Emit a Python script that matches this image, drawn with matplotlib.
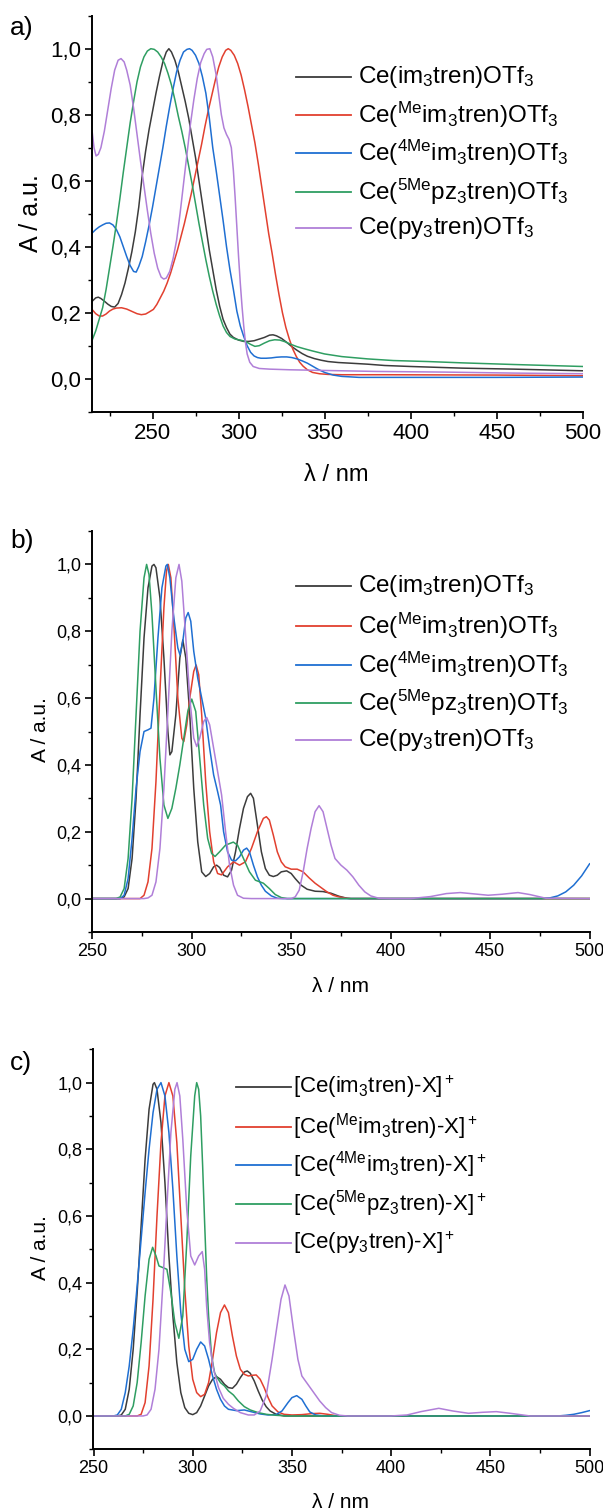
import matplotlib
matplotlib.use("Agg")
import matplotlib.pyplot as plt
from matplotlib.lines import Line2D
from matplotlib.ticker import MultipleLocator

plt.rcParams['font.family'] = ['Liberation Sans', 'DejaVu Sans']
plt.rcParams['mathtext.fontset'] = 'custom'
plt.rcParams['mathtext.rm'] = 'Liberation Sans'
plt.rcParams['mathtext.it'] = 'Liberation Sans:italic'
plt.rcParams['mathtext.default'] = 'regular'

W, H = 603, 1512

colors = ['#3c3c3c', '#e2402f', '#1f6fd2', '#2f9e62', '#b07fd8']

labels_ab = [r'Ce(im$_3$tren)OTf$_3$',
             r'Ce($^{Me}$im$_3$tren)OTf$_3$',
             r'Ce($^{4Me}$im$_3$tren)OTf$_3$',
             r'Ce($^{5Me}$pz$_3$tren)OTf$_3$',
             r'Ce(py$_3$tren)OTf$_3$']
labels_c = [r'[Ce(im$_3$tren)-X$]^+$',
            r'[Ce($^{Me}$im$_3$tren)-X$]^+$',
            r'[Ce($^{4Me}$im$_3$tren)-X$]^+$',
            r'[Ce($^{5Me}$pz$_3$tren)-X$]^+$',
            r'[Ce(py$_3$tren)-X$]^+$']

ytick_vals = [0.0, 0.2, 0.4, 0.6, 0.8, 1.0]
ytick_text = ['0,0', '0,2', '0,4', '0,6', '0,8', '1,0']
xtick_vals = [250, 300, 350, 400, 450, 500]

# ---- a) measured spectra ----
a_im_x = [215, 217, 218.5, 220, 222, 224, 226, 228, 230, 232, 234, 236, 238, 240, 242, 244, 246,
          248, 250, 252, 254, 256, 258, 259.5, 261, 263, 265, 267, 269, 271, 273, 275, 277, 279,
          281, 283, 285, 287, 289, 291, 293, 295, 297, 300, 303, 306, 309, 312, 315, 318, 320,
          322, 325, 328, 331, 334, 337, 340, 344, 348, 352, 358, 365, 375, 385, 400, 430, 460, 500]
a_im_y = [0.235, 0.245, 0.247, 0.243, 0.235, 0.226, 0.219, 0.217, 0.228, 0.255, 0.29, 0.335, 0.385,
          0.445, 0.52, 0.615, 0.69, 0.755, 0.81, 0.865, 0.915, 0.96, 0.99, 1.0, 0.99, 0.965, 0.93,
          0.885, 0.84, 0.79, 0.73, 0.67, 0.6, 0.53, 0.46, 0.39, 0.33, 0.27, 0.22, 0.18, 0.155,
          0.135, 0.125, 0.117, 0.113, 0.113, 0.115, 0.12, 0.125, 0.132, 0.133, 0.13, 0.122, 0.11,
          0.097, 0.086, 0.076, 0.068, 0.061, 0.056, 0.052, 0.049, 0.047, 0.044, 0.04, 0.037,
          0.032, 0.029, 0.024]

a_me_x = [215, 217, 219, 221, 223, 225, 227, 229, 232, 235, 238, 241, 243.5, 246, 248, 250.5,
          252.5, 254.5, 256.5, 258.5, 260.5, 262.5, 264.5, 266.5, 268.5, 270.5, 272.5, 274.5,
          276.5, 278.5, 280.5, 282.5, 284.5, 286.5, 288.5, 290.5, 292.5, 294, 295.5, 297.5,
          299.5, 301.5, 303.5, 305.5, 307.5, 309.5, 311.5, 313.5, 315.5, 317.5, 319.5, 321.5,
          323.5, 325.5, 327.5, 329.5, 331.5, 333.5, 335.5, 337.5, 340, 343, 347, 352, 360, 385,
          450, 500]
a_me_y = [0.209, 0.197, 0.19, 0.19, 0.196, 0.205, 0.211, 0.214, 0.215, 0.211, 0.204, 0.197, 0.194,
          0.196, 0.202, 0.21, 0.225, 0.245, 0.265, 0.29, 0.32, 0.355, 0.39, 0.43, 0.47, 0.515,
          0.56, 0.61, 0.66, 0.71, 0.765, 0.815, 0.86, 0.905, 0.945, 0.975, 0.995, 1.0, 0.995, 0.98,
          0.955, 0.92, 0.875, 0.825, 0.77, 0.715, 0.65, 0.58, 0.51, 0.44, 0.38, 0.315, 0.255,
          0.2, 0.155, 0.12, 0.09, 0.068, 0.05, 0.038, 0.027, 0.019, 0.015, 0.013, 0.012, 0.012,
          0.011, 0.009]

a_4me_x = [215, 217, 219, 221, 223, 225, 227, 229, 231, 233, 235, 237, 239, 240.5, 242, 244, 246,
           248, 250, 252, 254, 256, 258, 260, 262, 264, 266, 268, 270, 271.5, 273, 275, 277, 279,
           281, 283, 285, 287, 289, 291, 293, 295, 297, 299, 301, 303, 305, 307, 309, 311, 313,
           316, 319, 322, 325, 328, 331, 334, 337, 340, 343, 346, 350, 355, 360, 370, 400, 450, 500]
a_4me_y = [0.442, 0.452, 0.46, 0.466, 0.471, 0.472, 0.466, 0.452, 0.43, 0.4, 0.37, 0.343, 0.325,
           0.323, 0.34, 0.37, 0.415, 0.465, 0.52, 0.58, 0.64, 0.7, 0.765, 0.825, 0.88, 0.93, 0.965,
           0.99, 0.998, 1.0, 0.995, 0.98, 0.955, 0.915, 0.865, 0.79, 0.7, 0.63, 0.555, 0.48, 0.40,
           0.33, 0.27, 0.205, 0.16, 0.128, 0.1, 0.08, 0.069, 0.064, 0.062, 0.062, 0.063, 0.065,
           0.066, 0.066, 0.064, 0.06, 0.054, 0.047, 0.038, 0.029, 0.019, 0.011, 0.007, 0.004,
           0.004, 0.004, 0.005]

a_5me_x = [215, 217, 219, 221, 223, 225, 227, 229, 231, 233, 235, 237, 239, 241, 243, 245, 247,
           249, 251, 253, 255, 257, 259, 261, 263, 265, 267, 269, 271, 273, 275, 277, 279, 281,
           283, 285, 287, 289, 291, 293, 295, 298, 301, 304, 307, 309.5, 312, 315, 318, 321, 324,
           327, 330, 334, 338, 343, 350, 360, 375, 390, 410, 430, 460, 500]
a_5me_y = [0.118, 0.145, 0.18, 0.215, 0.27, 0.335, 0.4, 0.47, 0.545, 0.625, 0.7, 0.775, 0.84, 0.9,
           0.945, 0.975, 0.993, 1.0, 0.998, 0.99, 0.975, 0.955, 0.925, 0.89, 0.845, 0.795, 0.75,
           0.7, 0.645, 0.59, 0.53, 0.47, 0.415, 0.36, 0.31, 0.265, 0.225, 0.19, 0.16, 0.14, 0.128,
           0.12, 0.117, 0.113, 0.104, 0.098, 0.1, 0.108, 0.115, 0.118, 0.117, 0.112, 0.105, 0.097,
           0.091, 0.084, 0.075, 0.067, 0.06, 0.055, 0.052, 0.048, 0.043, 0.037]

a_py_x = [215, 216, 217.2, 218.5, 220, 222, 224, 226, 228, 230, 231.7, 233.5, 235, 237, 239, 241,
          243, 245, 247, 249, 251, 253, 255, 256.5, 258, 260, 262, 264, 266, 268, 270, 272, 274,
          276, 278, 280, 281.5, 283.3, 285, 287, 288.5, 290, 291.5, 293, 294.5, 295.8, 297, 298,
          299, 300, 301, 302, 303, 304, 305, 306.5, 308.5, 312, 318, 330, 350, 380, 420, 460, 500]
a_py_y = [0.745, 0.7, 0.675, 0.68, 0.7, 0.75, 0.815, 0.88, 0.935, 0.965, 0.97, 0.96, 0.935, 0.89,
          0.82, 0.74, 0.66, 0.585, 0.51, 0.44, 0.38, 0.335, 0.308, 0.302, 0.305, 0.325, 0.365,
          0.42, 0.5, 0.59, 0.68, 0.77, 0.845, 0.91, 0.958, 0.985, 0.998, 1.0, 0.975, 0.92, 0.86,
          0.8, 0.76, 0.74, 0.725, 0.7, 0.63, 0.55, 0.46, 0.37, 0.29, 0.22, 0.16, 0.11, 0.075,
          0.05, 0.037, 0.031, 0.029, 0.027, 0.025, 0.022, 0.02, 0.017, 0.015]

# ---- b) calculated spectra ----
b_im_x = [250, 264, 266, 268, 270, 272, 274, 276, 278, 280, 281, 282, 284, 286, 288, 289, 290,
          292, 294, 295.5, 297, 299, 301, 303, 305, 307, 309, 311, 312.5, 314, 316, 318, 320,
          322, 324, 326, 328, 329.6, 331, 333, 335, 337, 339, 341, 343, 345, 347.7, 350, 352,
          355, 358, 362, 366, 370, 374, 378, 380, 500]
b_im_y = [0, 0, 0.005, 0.03, 0.12, 0.3, 0.55, 0.78, 0.93, 0.995, 1.0, 0.99, 0.9, 0.72, 0.5, 0.43,
          0.44, 0.55, 0.72, 0.774, 0.72, 0.55, 0.33, 0.17, 0.08, 0.066, 0.075, 0.095, 0.1, 0.093,
          0.07, 0.065, 0.085, 0.14, 0.21, 0.27, 0.305, 0.315, 0.3, 0.22, 0.14, 0.09, 0.07, 0.066,
          0.07, 0.08, 0.083, 0.075, 0.06, 0.04, 0.028, 0.022, 0.021, 0.016, 0.007, 0.001, 0, 0]

b_me_x = [250, 274, 276, 278, 280, 282, 284, 286, 287.3, 288.2, 289.5, 291, 293, 295, 296, 297.5,
          299, 301, 302.2, 303.5, 305, 307, 309, 311, 313, 315, 318, 321, 324, 327, 330, 333,
          336, 337.5, 339, 341, 343, 345, 347, 350, 353, 356, 359, 362, 365, 368, 371, 374,
          378, 380, 500]
b_me_y = [0, 0, 0.01, 0.05, 0.15, 0.35, 0.62, 0.87, 0.98, 1.0, 0.96, 0.82, 0.6, 0.48, 0.47, 0.52,
          0.6, 0.68, 0.699, 0.67, 0.55, 0.35, 0.2, 0.11, 0.075, 0.071, 0.095, 0.11, 0.1, 0.11,
          0.15, 0.2, 0.24, 0.245, 0.235, 0.19, 0.14, 0.11, 0.095, 0.088, 0.088, 0.08, 0.062,
          0.046, 0.033, 0.02, 0.01, 0.005, 0.001, 0, 0]

b_4me_x = [250, 264, 266, 268, 270, 272, 274, 276, 278, 279.5, 281, 283, 285, 287, 287.7, 289,
           291, 293, 294.1, 295.5, 297, 298.2, 299.5, 301, 303, 305, 307, 309, 311, 313, 314.5,
           316, 318, 320, 322, 324, 326, 327.6, 329, 331, 333, 335, 337, 340, 343, 346, 476,
           480, 484, 488, 492, 496, 500]
b_4me_y = [0, 0, 0.01, 0.06, 0.18, 0.33, 0.44, 0.5, 0.505, 0.51, 0.6, 0.78, 0.93, 0.995, 1.0,
           0.96, 0.84, 0.75, 0.729, 0.77, 0.84, 0.856, 0.83, 0.74, 0.66, 0.6, 0.54, 0.45, 0.37,
           0.32, 0.28, 0.2, 0.14, 0.115, 0.113, 0.125, 0.145, 0.151, 0.14, 0.1, 0.065, 0.04,
           0.022, 0.008, 0.001, 0, 0, 0.002, 0.008, 0.02, 0.04, 0.068, 0.104]

b_5me_x = [250, 262, 264, 266, 268, 270, 272, 274, 276, 277.3, 278.5, 280, 282, 284, 286, 288,
           290, 292, 294, 296, 298, 300, 302, 304, 306, 308, 310, 311.7, 314, 317, 320.9, 323,
           326, 329, 332, 336, 339, 342, 345, 348, 500]
b_5me_y = [0, 0, 0.005, 0.03, 0.12, 0.3, 0.55, 0.8, 0.96, 1.0, 0.97, 0.85, 0.63, 0.42, 0.28, 0.24,
           0.27, 0.33, 0.40, 0.48, 0.56, 0.597, 0.56, 0.42, 0.28, 0.18, 0.135, 0.126, 0.14, 0.16,
           0.169, 0.16, 0.12, 0.08, 0.055, 0.046, 0.03, 0.012, 0.003, 0, 0]

b_py_x = [250, 276, 278, 280, 282, 284, 286, 288, 290, 292, 293.6, 295, 297, 299, 301, 302.5,
          304, 306, 307.5, 309, 311, 313, 315, 317, 319, 321, 323, 326, 330, 350, 352, 354, 356,
          358, 360, 362, 364, 366, 368, 370, 372, 375, 378, 381, 384, 387, 390, 394, 400, 410,
          420, 428, 435, 442, 449, 456, 464, 470, 478, 500]
b_py_y = [0, 0, 0.002, 0.01, 0.05, 0.15, 0.33, 0.56, 0.8, 0.96, 1.0, 0.95, 0.78, 0.6, 0.48, 0.455,
          0.48, 0.53, 0.542, 0.52, 0.45, 0.38, 0.31, 0.2, 0.1, 0.04, 0.01, 0.001, 0, 0, 0.005,
          0.025, 0.08, 0.15, 0.21, 0.26, 0.278, 0.26, 0.21, 0.16, 0.12, 0.1, 0.085, 0.065, 0.04,
          0.02, 0.008, 0.001, 0, 0, 0.006, 0.015, 0.018, 0.014, 0.01, 0.013, 0.018, 0.012,
          0.001, 0]

# ---- c) calculated spectra of the cations ----
c_im_x = [250, 262, 264, 266, 268, 270, 272, 274, 276, 278, 280, 280.7, 282, 284, 286, 288, 290,
          292, 294, 296, 298, 300, 302, 304, 306, 308, 310, 312, 314, 316, 318, 320, 322, 324,
          326, 327.5, 329, 331, 333, 335, 337, 339, 342, 346, 500]
c_im_y = [0, 0, 0.003, 0.02, 0.08, 0.2, 0.37, 0.57, 0.77, 0.92, 0.995, 1.0, 0.98, 0.88, 0.7,
          0.48, 0.3, 0.16, 0.07, 0.025, 0.008, 0.004, 0.01, 0.03, 0.06, 0.09, 0.11, 0.118, 0.11,
          0.095, 0.085, 0.083, 0.095, 0.115, 0.132, 0.135, 0.128, 0.105, 0.075, 0.048, 0.028,
          0.015, 0.005, 0, 0]

c_me_x = [250, 272, 274, 276, 278, 280, 282, 284, 286, 288, 290, 292, 294, 296, 298, 300, 302,
          304, 306, 308, 310, 312, 314, 316, 318, 320, 322, 324, 326, 328, 330, 332, 334, 336,
          338, 340, 343, 346, 350, 355, 360, 364, 368, 372, 376, 500]
c_me_y = [0, 0, 0.005, 0.04, 0.15, 0.35, 0.6, 0.82, 0.96, 1.0, 0.96, 0.82, 0.6, 0.38, 0.21, 0.11,
          0.07, 0.058, 0.065, 0.1, 0.17, 0.25, 0.31, 0.333, 0.31, 0.24, 0.18, 0.14, 0.125, 0.12,
          0.122, 0.123, 0.11, 0.085, 0.055, 0.03, 0.012, 0.005, 0.003, 0.004, 0.007, 0.008,
          0.005, 0.001, 0, 0]

c_4me_x = [250, 260, 262, 264, 266, 268, 270, 272, 274, 276, 278, 280, 282, 284, 286, 288, 290,
           292, 294, 296, 298, 300, 302, 304, 306, 308, 310, 312, 314, 316, 318, 322, 326, 330,
           334, 338, 342, 345, 348, 350, 352.4, 355, 357, 359, 362, 366, 484, 488, 492, 496, 500]
c_4me_y = [0, 0, 0.003, 0.02, 0.07, 0.15, 0.26, 0.39, 0.53, 0.67, 0.8, 0.91, 0.98, 1.0, 0.96,
           0.85, 0.68, 0.48, 0.31, 0.2, 0.163, 0.17, 0.2, 0.222, 0.21, 0.17, 0.12, 0.08, 0.05,
           0.03, 0.02, 0.016, 0.018, 0.012, 0.006, 0.003, 0.004, 0.015, 0.04, 0.055, 0.061,
           0.05, 0.03, 0.012, 0.003, 0, 0, 0.002, 0.005, 0.01, 0.016]

c_5me_x = [250, 266, 268, 270, 272, 274, 276, 278, 279.8, 281.5, 283, 285, 287, 289, 291, 293,
           295, 297, 299, 301, 302, 303, 304, 305, 306, 307, 308, 309.5, 311, 312, 314, 316, 318,
           320.5, 323, 326, 329, 333, 337, 342, 348, 500]
c_5me_y = [0, 0, 0.005, 0.03, 0.1, 0.22, 0.36, 0.47, 0.506, 0.48, 0.45, 0.445, 0.44, 0.37, 0.28,
           0.233, 0.3, 0.52, 0.78, 0.96, 1.0, 0.98, 0.9, 0.75, 0.58, 0.42, 0.3, 0.18, 0.13, 0.118,
           0.1, 0.09, 0.075, 0.063, 0.045, 0.028, 0.018, 0.01, 0.005, 0.002, 0, 0]

c_py_x = [250, 275, 277, 279, 281, 283, 285, 287, 289, 291, 292.1, 293.5, 295, 297, 299, 301, 303,
          304.8, 306, 307, 308.5, 310.4, 313, 315.4, 318, 320.5, 324, 328, 331, 334, 337, 340,
          342.3, 344.5, 346.5, 348.5, 350.7, 353, 355, 358, 361, 364, 367, 370, 374, 378, 400,
          408, 415, 424, 431, 439, 446, 453, 460, 470, 500]
c_py_y = [0, 0, 0.003, 0.02, 0.08, 0.2, 0.4, 0.63, 0.85, 0.98, 1.0, 0.96, 0.83, 0.62, 0.48, 0.453,
          0.48, 0.493, 0.44, 0.33, 0.22, 0.143, 0.085, 0.053, 0.035, 0.023, 0.01, 0.003, 0.003,
          0.015, 0.06, 0.17, 0.263, 0.35, 0.393, 0.36, 0.263, 0.17, 0.12, 0.095, 0.07, 0.045,
          0.025, 0.01, 0.002, 0, 0, 0.003, 0.013, 0.023, 0.015, 0.008, 0.011, 0.013, 0.008, 0, 0]

series_a = [(a_im_x, a_im_y), (a_me_x, a_me_y), (a_4me_x, a_4me_y), (a_5me_x, a_5me_y), (a_py_x, a_py_y)]
series_b = [(b_im_x, b_im_y), (b_me_x, b_me_y), (b_4me_x, b_4me_y), (b_5me_x, b_5me_y), (b_py_x, b_py_y)]
series_c = [(c_im_x, c_im_y), (c_me_x, c_me_y), (c_4me_x, c_4me_y), (c_5me_x, c_5me_y), (c_py_x, c_py_y)]


def fx(px):
    return px / W


def fy(py):
    return 1 - py / H


def make_panel(fig, box, series, xlim, tick_fs):
    left, right, top, bottom = box
    ax = fig.add_axes([fx(left), fy(bottom), fx(right - left), (bottom - top) / H])
    for (x, y), c in zip(series, colors):
        ax.plot(x, y, color=c, lw=1.1)
    ax.set_xlim(*xlim)
    ax.set_ylim(-0.1, 1.1)
    ax.spines['top'].set_visible(False)
    ax.spines['right'].set_visible(False)
    ax.spines['left'].set_linewidth(1.4)
    ax.spines['bottom'].set_linewidth(1.4)
    ax.set_yticks(ytick_vals)
    ax.set_yticklabels(ytick_text)
    ax.yaxis.set_minor_locator(MultipleLocator(0.1))
    ax.set_xticks(xtick_vals)
    ax.xaxis.set_minor_locator(MultipleLocator(25))
    ax.tick_params(which='major', direction='out', length=5, width=1.2, labelsize=tick_fs, pad=3)
    ax.tick_params(which='minor', direction='out', length=3, width=1.0)
    return ax


def legend_rows(fig, x0, x1, xt, ys, labels, fs):
    for y, c, lab in zip(ys, colors, labels):
        fig.add_artist(Line2D([fx(x0), fx(x1)], [fy(y), fy(y)], color=c, lw=1.3,
                              transform=fig.transFigure))
        fig.text(fx(xt), fy(y), lab, fontsize=fs, ha='left', va='center')


fig = plt.figure(figsize=(W / 100, H / 100), dpi=100)

ax_a = make_panel(fig, (92.3, 582.7, 15.7, 411.7), series_a, (215, 500), 16)
ax_b = make_panel(fig, (92.3, 589.6, 531, 932), series_b, (250, 500), 13)
ax_c = make_panel(fig, (93.5, 589.6, 1049.3, 1449.3), series_c, (250, 500), 13)

# axis titles
fig.text(fx(336), fy(475), 'λ / nm', fontsize=17, ha='center', va='center')
fig.text(fx(31), fy(213), 'A / a.u.', fontsize=18, ha='center', va='center', rotation=90)
fig.text(fx(341), fy(987), 'λ / nm', fontsize=15, ha='center', va='center')
fig.text(fx(40), fy(730), 'A / a.u.', fontsize=15, ha='center', va='center', rotation=90)
fig.text(fx(341), fy(1503), 'λ / nm', fontsize=15, ha='center', va='center')
fig.text(fx(40), fy(1248), 'A / a.u.', fontsize=15, ha='center', va='center', rotation=90)

# panel letters
fig.text(fx(10), fy(28), 'a)', fontsize=19, ha='left', va='center')
fig.text(fx(10), fy(541), 'b)', fontsize=19, ha='left', va='center')
fig.text(fx(10), fy(1063), 'c)', fontsize=19, ha='left', va='center')

legend_rows(fig, 296, 351, 358, [77, 115, 153, 192, 228], labels_ab, 17.5)
legend_rows(fig, 296, 351, 358, [586, 626, 665, 703, 740], labels_ab, 17.5)
legend_rows(fig, 236, 291, 293, [1087, 1127, 1165, 1204, 1243], labels_c, 16)

fig.savefig('out.png', dpi=100)
